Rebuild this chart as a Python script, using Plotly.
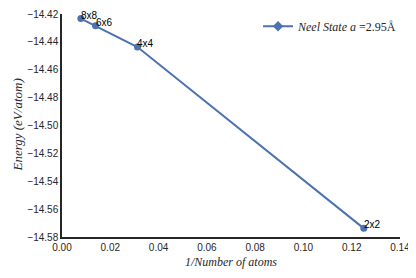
import plotly.graph_objects as go

labels = ["8x8", "6x6", "4x4", "2x2"]
inv_atoms = [1/128, 1/72, 1/32, 1/8]
energy = [-14.4233, -14.4285, -14.4437, -14.5738]
x_ticks = [0.00, 0.02, 0.04, 0.06, 0.08, 0.10, 0.12, 0.14]
y_ticks = [-14.42, -14.44, -14.46, -14.48, -14.50, -14.52, -14.54, -14.56, -14.58]

blue = "#4C72B0"
fig = go.Figure()
fig.add_trace(go.Scatter(
    x=inv_atoms, y=energy, mode="lines+markers",
    line=dict(color=blue, width=2),
    marker=dict(color=blue, size=7, symbol="circle"),
    showlegend=False, cliponaxis=False,
))
fig.add_trace(go.Scatter(
    x=[None], y=[None], mode="lines+markers",
    line=dict(color=blue, width=2),
    marker=dict(color=blue, size=8, symbol="diamond"),
    name="<i>Neel State a</i> =2.95Å",
))
for lab, xv, yv in zip(labels, inv_atoms, energy):
    fig.add_annotation(x=xv, y=yv, text=lab, showarrow=False,
                       xanchor="left", yanchor="bottom", xshift=-2, yshift=-4,
                       font=dict(family="Liberation Sans, Arial", size=10, color="black"))
fig.add_annotation(xref="paper", yref="paper", x=-0.133, y=0.5, text="<i>Energy (eV/atom)</i>",
                   textangle=-90, showarrow=False, xanchor="center", yanchor="middle",
                   font=dict(family="Liberation Serif, serif", size=13, color="#262626"))
fig.update_layout(
    width=416, height=278,
    margin=dict(l=54, r=24, t=4, b=49),
    plot_bgcolor="white", paper_bgcolor="white",
    font=dict(family="Liberation Sans, Arial", size=10, color="#262626"),
    legend=dict(x=0.58, y=1.01, xanchor="left", yanchor="top",
                font=dict(family="Liberation Serif, serif", size=12, color="#262626"),
                bgcolor="rgba(0,0,0,0)", itemwidth=30),
    xaxis=dict(range=[0, 0.14], tickvals=x_ticks, ticktext=[f"{v:.2f}" for v in x_ticks],
               ticklabeloverflow="allow", automargin=False,
               showgrid=False, zeroline=False, showline=True, linecolor="#262626", linewidth=1.5,
               ticks="", title=dict(text="<i>1/Number of atoms</i>", standoff=6,
                                    font=dict(family="Liberation Serif, serif", size=12))),
    yaxis=dict(range=[-14.58, -14.42], tickvals=y_ticks, ticktext=[f"{v:.2f}".replace("-", "\u2212") for v in y_ticks],
               automargin=False,
               showgrid=False, zeroline=False, showline=True, linecolor="#262626", linewidth=1.5,
               ticks=""),
)
fig.write_html("out.html")
